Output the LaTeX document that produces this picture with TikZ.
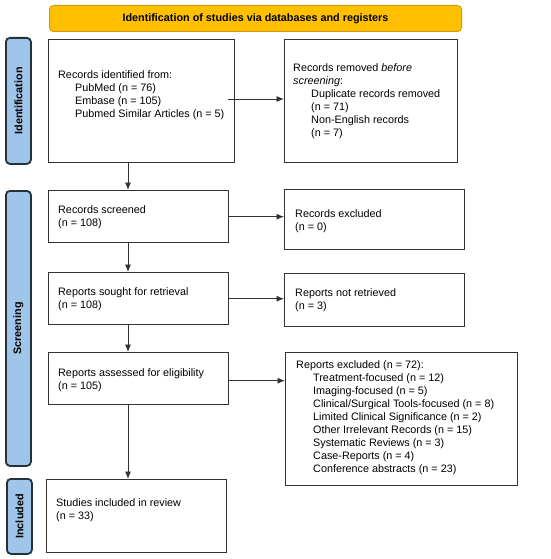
\documentclass[tikz,border=0pt]{standalone}
\usepackage{fontspec}
\setmainfont{Liberation Sans}
\usetikzlibrary{arrows.meta}
\definecolor{bannerfill}{HTML}{FFC000}
\definecolor{bannerline}{HTML}{D49B12}
\definecolor{sidefill}{HTML}{9FC5E8}
\definecolor{sideline}{HTML}{26323A}
\definecolor{boxline}{HTML}{333333}
\begin{document}
\begin{tikzpicture}[x=1pt,y=-1pt,
  box/.style={draw=boxline, line width=1.4pt, fill=white, anchor=north west, inner sep=0pt},
  side/.style={draw=sideline, fill=sidefill, line width=1.8pt, rounded corners=4pt, anchor=north west, inner sep=0pt},
  sidetxt/.style={rotate=90, font=\fontsize{10.8}{13}\selectfont\bfseries, inner sep=0pt},
  banner/.style={draw=bannerline, fill=bannerfill, line width=1pt, rounded corners=4pt, anchor=north west, inner sep=0pt},
  txt/.style={anchor=north west, inner sep=0pt, align=left, font=\fontsize{10.8}{13}\selectfont},
  arr/.style={-{Latex[length=7.5pt,width=6pt]}, draw=boxline, line width=0.8pt}]
\useasboundingbox (0,0) rectangle (550,559);
% banner
\node[banner, minimum width=412pt, minimum height=26pt] (ban) at (49,5) {};
\node[font=\fontsize{10.8}{13}\selectfont\bfseries, inner sep=0pt] (bantxt) at (ban.center) {Identification of studies via databases and registers};
% side labels
\node[side, minimum width=25pt, minimum height=126pt] (sid) at (5,37) {};
\node[sidetxt] (sidt) at (sid.center) {Identification};
\node[side, minimum width=25pt, minimum height=275pt] (sscr) at (5,190) {};
\node[sidetxt] (sscrt) at (sscr.center) {Screening};
\node[side, minimum width=25pt, minimum height=75pt] (sinc) at (6,478) {};
\node[sidetxt] (sinct) at (sinc.center) {Included};
% boxes
\node[box, minimum width=186pt, minimum height=123pt] (idf) at (48,39) {};
\node[box, minimum width=173pt, minimum height=123pt] (rem) at (284,39) {};
\node[box, minimum width=180pt, minimum height=52pt] (scr) at (48,190) {};
\node[box, minimum width=180pt, minimum height=60pt] (exc) at (284,189) {};
\node[box, minimum width=180pt, minimum height=52pt] (sou) at (48,272) {};
\node[box, minimum width=180pt, minimum height=53pt] (nret) at (284,273) {};
\node[box, minimum width=180pt, minimum height=52pt] (ass) at (48,352) {};
\node[box, minimum width=232pt, minimum height=133pt] (rexc) at (285,352) {};
\node[box, minimum width=180pt, minimum height=73pt] (inc) at (46,479) {};
% texts
\node[txt] (idft) at (58,70) {Records identified from:\\
  \hspace*{17pt}PubMed (n = 76)\\
  \hspace*{17pt}Embase (n = 105)\\
  \hspace*{17pt}Pubmed Similar Articles (n = 5)};
\node[txt] (remt) at (293,63) {Records removed \textit{before}\\
  \textit{screening}:\\
  \hspace*{18pt}Duplicate records removed\\
  \hspace*{18pt}(n = 71)\\
  \hspace*{18pt}Non-English records\\
  \hspace*{18pt}(n = 7)};
\node[txt] (scrt) at (58,205) {Records screened\\(n = 108)};
\node[txt] (exct) at (295,209) {Records excluded\\(n = 0)};
\node[txt] (sout) at (58,287) {Reports sought for retrieval\\(n = 108)};
\node[txt] (nrett) at (295,288) {Reports not retrieved\\(n = 3)};
\node[txt] (asst) at (58,368) {Reports assessed for eligibility\\(n = 105)};
\node[txt] (rexct) at (296,360) {Reports excluded (n = 72):\\
  \hspace*{17pt}Treatment-focused (n = 12)\\
  \hspace*{17pt}Imaging-focused (n = 5)\\
  \hspace*{17pt}Clinical/Surgical Tools-focused (n = 8)\\
  \hspace*{17pt}Limited Clinical Significance (n = 2)\\
  \hspace*{17pt}Other Irrelevant Records (n = 15)\\
  \hspace*{17pt}Systematic Reviews (n = 3)\\
  \hspace*{17pt}Case-Reports (n = 4)\\
  \hspace*{17pt}Conference abstracts (n = 23)};
\node[txt] (inct) at (56,498) {Studies included in review\\(n = 33)};
% connectors
\coordinate (ax) at (128,0);
\coordinate (a1) at (228,99);
\draw[arr] (a1) -- (a1 -| rem.west);
\draw[arr] (scr.east) -- (scr.east -| exc.west);
\draw[arr] (sou.east) -- (sou.east -| nret.west);
\draw[arr] ([yshift=-2pt]ass.east) -- ([yshift=-2pt]ass.east -| rexc.west);
\draw[arr] (idf.south -| ax) -- (scr.north -| ax);
\draw[arr] (scr.south -| ax) -- (sou.north -| ax);
\draw[arr] (sou.south -| ax) -- (ass.north -| ax);
\draw[arr] (ass.south -| ax) -- (inc.north -| ax);
\end{tikzpicture}
\end{document}
